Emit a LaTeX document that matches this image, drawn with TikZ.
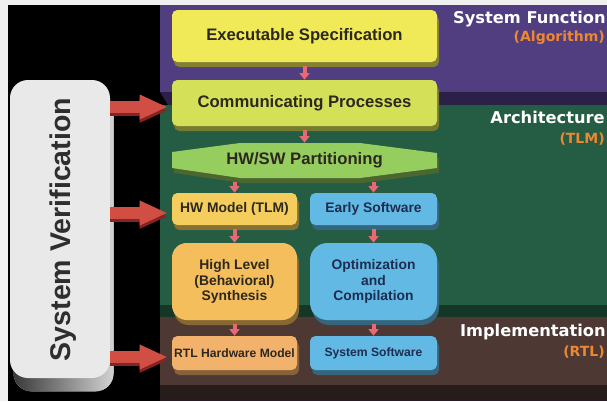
\documentclass[tikz,border=0pt]{standalone}
\usepackage{fontspec}
\setmainfont{Liberation Sans}
\newfontfamily\widefont{DejaVu Sans}
\usetikzlibrary{arrows.meta, positioning, shadows}

\definecolor{bandpurple}{RGB}{80,62,128}
\definecolor{bandpurpledk}{RGB}{42,32,72}
\definecolor{bandgreen}{RGB}{36,92,68}
\definecolor{bandgreendk}{RGB}{20,55,40}
\definecolor{bandbrown}{RGB}{78,56,52}
\definecolor{bandbrowndk}{RGB}{38,28,28}
\definecolor{cexec}{RGB}{240,233,88}
\definecolor{ccomm}{RGB}{212,225,88}
\definecolor{chwsw}{RGB}{150,205,95}
\definecolor{chw}{RGB}{245,205,92}
\definecolor{chls}{RGB}{245,190,92}
\definecolor{crtl}{RGB}{243,178,108}
\definecolor{csw}{RGB}{98,185,228}
\definecolor{ctext}{RGB}{45,40,30}
\definecolor{cswtext}{RGB}{30,45,80}
\definecolor{cverif}{RGB}{233,233,233}
\definecolor{csmall}{RGB}{232,105,115}
\definecolor{cbig}{RGB}{208,78,68}
\definecolor{cbigdk}{RGB}{135,35,32}
\definecolor{corange}{RGB}{236,135,50}

\newcommand{\boxfont}{\fontsize{12.5pt}{14pt}\selectfont\bfseries}
\newcommand{\midfont}{\fontsize{10.4pt}{11.6pt}\selectfont\bfseries}
\newcommand{\lowfont}{\fontsize{9.1pt}{11pt}\selectfont\bfseries}
\newcommand{\veriffont}{\fontsize{21.4pt}{24pt}\selectfont\bfseries}
\newcommand{\lvlfont}{\widefont\fontsize{12.2pt}{14pt}\selectfont\bfseries}
\newcommand{\subfont}{\widefont\fontsize{10.5pt}{12pt}\selectfont\bfseries}

\begin{document}
\begin{tikzpicture}[x=0.75pt, y=-0.75pt, >=Stealth,
    box/.style={fill=#1, rounded corners=4pt, inner sep=0pt, align=center,
        copy shadow={shadow xshift=1.5pt, shadow yshift=-3.75pt, fill=#1!55!black, draw=none}},
    smallarr/.style={csmall, line width=3pt, -{Triangle[length=5pt, width=7.5pt]}, shorten <=3pt},
    bigarr/.style={line width=9pt, -{Triangle[length=21pt, width=17pt]}, shorten >=3pt},
    lvl/.style={text=white, font=\lvlfont, anchor=base east, inner sep=0pt},
    sub/.style={text=corange, font=\subfont, anchor=base east, inner sep=0pt}]

    \useasboundingbox (0,0) rectangle (607,401);

    % backdrop
    \fill[gray!12] (0,0) rectangle (607,401);
    \fill[black] (8,5) rectangle (607,401);

    % abstraction levels
    \fill[bandpurple] (160,5) rectangle (607,92);
    \fill[bandpurpledk] (160,92) -- (607,92) -- (607,105) -- (168,105) -- cycle;
    \fill[bandgreen] (160,105) rectangle (607,305);
    \fill[bandgreendk] (160,305) rectangle (607,317);
    \fill[bandbrown] (160,317) rectangle (607,385);
    \fill[bandbrowndk] (160,385) rectangle (607,401);

    \node[lvl] (lvlfunc) at (606,23) {System Function};
    \node[sub] (lvlalg) at (605,41) {(Algorithm)};
    \node[lvl] (lvlarch) at (605,123) {Architecture};
    \node[sub] (lvltlm) at (605,143) {(TLM)};
    \node[lvl] (lvlimpl) at (606,336) {Implementation};
    \node[sub] (lvlrtl) at (605,356) {(RTL)};

    % verification column
    \node[fill=cverif, rounded corners=13.5pt, minimum width=75pt, minimum height=223.5pt,
        copy shadow={shadow yshift=-10pt, left color=gray!45!black, right color=gray!35, draw=none}] (verif) at (60,229) {};
    \node[rotate=90, anchor=base, text=black!82, font=\veriffont] (veriftext) at (70,229.5) {System Verification};

    % design flow
    \node[box=cexec, minimum width=198.75pt, minimum height=39pt, text=ctext, font=\boxfont] (exec) at (304.5,36) {Executable Specification};
    \node[box=ccomm, minimum width=198.75pt, minimum height=34.5pt, text=ctext, font=\boxfont] (comm) at (304.5,103) {Communicating Processes};

    \begin{scope}[shift={(1.5pt,-3.75pt)}]
        \fill[chwsw!50!black] (172,152) -- (240,143) -- (360,143) -- (437,153) -- (437,168) -- (360,178) -- (240,178) -- (172,168) -- cycle;
    \end{scope}
    \fill[chwsw] (172,152) -- (240,143) -- (360,143) -- (437,153) -- (437,168) -- (360,178) -- (240,178) -- (172,168) -- cycle;
    \node[minimum width=198.75pt, minimum height=26.25pt, inner sep=0pt, text=ctext, font=\boxfont] (hwsw) at (304.5,160.5) {HW/SW Partitioning};

    \node[box=chw, minimum width=93.75pt, minimum height=24pt, text=ctext, font=\midfont] (hw) at (234.5,209) {HW Model (TLM)};
    \node[box=csw, minimum width=95.25pt, minimum height=24pt, text=cswtext, font=\midfont] (early) at (373.5,209) {Early Software};

    \node[box=chls, rounded corners=11pt, minimum width=93.75pt, minimum height=57.75pt, text=ctext, font=\midfont] (hls) at (234.5,281.5) {High Level\\(Behavioral)\\Synthesis};
    \node[box=csw, rounded corners=13pt, minimum width=95.25pt, minimum height=57.75pt, text=cswtext, font=\midfont] (opt) at (373.5,281.5) {Optimization\\and\\Compilation};

    \node[box=crtl, minimum width=93.75pt, minimum height=25.5pt, text=ctext, font=\lowfont] (rtl) at (234.5,353) {RTL Hardware Model};
    \node[box=csw, minimum width=95.25pt, minimum height=25.5pt, text=cswtext, font=\lowfont] (syssw) at (373.5,353) {System Software};

    % refinement steps
    \draw[smallarr] (exec) -- (comm);
    \draw[smallarr] (comm) -- (hwsw);
    \draw[smallarr] (hwsw.south -| hw) -- (hw);
    \draw[smallarr] (hwsw.south -| early) -- (early);
    \draw[smallarr] (hw) -- (hls);
    \draw[smallarr] (early) -- (opt);
    \draw[smallarr] (hls) -- (rtl);
    \draw[smallarr] (opt) -- (syssw);

    % verification against each model
    \foreach \target in {comm, hw, rtl} {
        \draw[bigarr, cbigdk] ([yshift=-5.5pt]verif.east |- \target.west) -- ([yshift=-5.5pt]\target.west);
        \draw[bigarr, cbig] ([yshift=-3pt]verif.east |- \target.west) -- ([yshift=-3pt]\target.west);
    }

\end{tikzpicture}
\end{document}
